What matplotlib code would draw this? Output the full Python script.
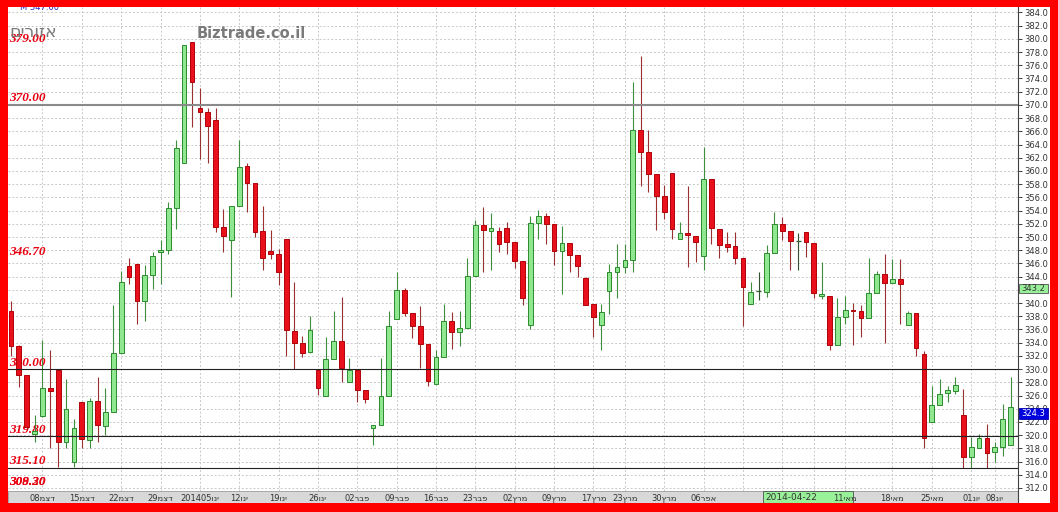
import re
import numpy as np
import matplotlib
matplotlib.use("Agg")
import matplotlib.pyplot as plt
from matplotlib.patches import Rectangle
from matplotlib.lines import Line2D

# ---------------- data ----------------
opens = [338.75, 333.5, 329.1, 320.1, 322.9, 327.1, 329.9, 319.0, 316.0, 325.0,
         319.25, 325.1, 321.4, 323.5, 332.5, 345.65, 345.85, 340.35, 344.2, 347.8,
         348.1, 354.4, 361.15, 379.6, 369.6, 368.9, 367.65, 351.5, 349.5, 354.75,
         360.75, 358.15, 350.85, 347.95, 347.5, 349.75, 335.75, 333.9, 332.6, 329.9,
         325.9, 331.6, 334.25, 328.0, 329.9, 326.9, 321.1, 321.6, 325.9, 337.6,
         342.0, 338.5, 336.6, 333.75, 327.75, 331.9, 337.25, 335.65, 336.25, 344.15,
         351.85, 350.95, 350.85, 351.4, 349.25, 346.4, 336.75, 352.1, 353.25, 352.0,
         347.9, 349.15, 347.25, 343.75, 339.85, 336.75, 341.75, 344.65, 345.5, 346.5,
         366.25, 362.85, 359.5, 356.15, 359.65, 349.75, 350.6, 350.15, 347.1, 358.75,
         351.25, 348.9, 348.6, 346.75, 339.9, 341.75, 341.65, 347.65, 352.0, 350.9,
         349.4, 350.75, 349.1, 341.0, 341.0, 333.6, 337.9, 338.95, 338.75, 337.75,
         341.5, 344.4, 343.0, 343.65, 336.65, 338.5, 332.35, 322.0, 324.5, 326.35,
         326.75, 323.0, 316.75, 318.1, 319.5, 317.4, 318.25, 318.5]
highs = [340.35, 333.6, 329.1, 323.0, 334.35, 332.85, 329.9, 328.5, 322.5, 325.0,
         325.6, 328.75, 327.1, 339.75, 344.9, 346.85, 345.85, 345.7, 347.75, 349.5,
         355.25, 364.65, 379.0, 379.6, 372.5, 369.6, 369.6, 354.25, 354.75, 364.65,
         361.25, 358.15, 354.75, 351.1, 348.25, 349.75, 343.25, 335.0, 338.1, 329.9,
         334.85, 338.85, 340.9, 331.75, 329.9, 326.9, 321.5, 331.75, 338.85, 344.65,
         342.25, 338.5, 339.5, 333.75, 332.9, 339.9, 338.65, 338.75, 346.75, 352.5,
         354.5, 353.65, 351.5, 352.25, 349.25, 346.4, 353.25, 354.1, 353.6, 352.0,
         351.6, 349.15, 347.25, 344.0, 339.85, 339.85, 345.85, 348.9, 348.9, 373.5,
         377.4, 366.25, 359.5, 357.9, 359.65, 352.25, 357.65, 350.15, 363.65, 358.75,
         351.25, 350.75, 350.75, 346.75, 343.25, 344.75, 348.75, 353.75, 353.1, 350.9,
         350.65, 350.75, 349.1, 346.25, 341.0, 340.75, 341.0, 340.0, 339.75, 346.75,
         344.85, 347.4, 346.6, 346.6, 338.85, 338.5, 332.75, 327.4, 328.5, 327.4,
         328.75, 327.0, 319.75, 320.25, 321.75, 318.9, 324.75, 328.85]
lows = [332.0, 327.35, 321.0, 319.0, 322.75, 318.0, 315.25, 318.0, 315.25, 318.0,
        318.0, 319.0, 320.0, 323.5, 332.5, 342.85, 336.9, 337.35, 342.1, 342.85,
        347.5, 351.15, 361.15, 366.65, 361.75, 361.15, 350.75, 347.75, 340.85, 354.75,
        353.75, 350.0, 345.0, 346.6, 342.75, 332.0, 329.95, 331.9, 332.4, 326.1,
        325.9, 331.6, 328.0, 328.0, 325.0, 324.9, 318.5, 321.6, 325.9, 337.6,
        338.0, 334.75, 330.1, 327.4, 327.75, 331.9, 333.0, 333.5, 336.25, 344.15,
        344.75, 345.0, 347.75, 347.4, 345.25, 339.75, 336.1, 349.75, 348.9, 345.75,
        341.4, 344.75, 343.9, 339.75, 334.9, 332.9, 338.4, 340.75, 344.5, 344.75,
        357.65, 356.75, 351.1, 352.75, 349.75, 349.75, 345.4, 346.25, 345.0, 348.9,
        346.75, 347.75, 345.9, 336.6, 339.9, 340.5, 340.9, 347.65, 349.6, 345.0,
        345.0, 347.0, 340.75, 340.6, 332.85, 333.6, 336.9, 333.65, 334.9, 337.75,
        341.5, 333.9, 343.0, 336.9, 336.65, 332.0, 318.0, 322.0, 324.5, 325.0,
        326.25, 315.0, 315.1, 318.1, 315.1, 316.0, 316.9, 318.5]
closes = [333.5, 329.15, 321.25, 320.65, 327.1, 326.75, 319.0, 324.0, 321.1, 319.4,
          325.1, 321.5, 323.5, 332.5, 343.15, 344.0, 340.35, 344.2, 347.2, 348.1,
          354.4, 363.5, 379.0, 373.5, 368.9, 366.75, 351.5, 350.2, 354.75, 360.65,
          358.15, 350.75, 346.85, 347.45, 344.65, 335.9, 333.9, 332.5, 335.9, 327.15,
          331.6, 334.25, 330.15, 329.9, 326.9, 325.5, 321.5, 325.9, 336.6, 342.0,
          338.5, 336.6, 333.75, 328.15, 331.9, 337.25, 335.6, 336.25, 344.1, 351.85,
          351.1, 351.35, 349.0, 349.25, 346.4, 340.75, 352.1, 353.25, 352.0, 347.9,
          349.15, 347.25, 345.65, 339.75, 337.85, 338.65, 344.65, 345.5, 346.5, 366.25,
          362.9, 359.5, 356.15, 353.75, 351.25, 350.6, 350.25, 349.25, 358.75, 351.35,
          348.85, 348.5, 346.75, 342.4, 341.65, 341.75, 347.6, 352.0, 350.9, 349.4,
          349.4, 349.25, 341.5, 341.3, 333.6, 337.9, 339.0, 338.85, 337.75, 341.5,
          344.4, 343.0, 343.6, 342.9, 338.5, 333.15, 319.5, 324.5, 326.25, 326.85,
          327.6, 316.75, 318.25, 319.6, 317.35, 318.25, 322.4, 324.3]

tick_idx = [4, 9, 14, 19, 24, 29, 34, 39, 44, 49, 54, 59, 64, 69, 74, 78, 83, 88,
            93, 98, 102, 106, 112, 117, 122, 125]
tick_labels = ["08דצמ", "15דצמ", "22דצמ", "29דצמ", "201405ינו", "12ינו", "19ינו",
               "26ינו", "02פבר", "09פבר", "16פבר", "23פבר", "02מרץ", "09מרץ",
               "17מרץ", "23מרץ", "30מרץ", "06אפר", "", "", "", "11מאי", "18מאי",
               "25מאי", "01יונ", "08יונ"]

zone_levels = [379.0, 370.0, 346.7, 330.0, 319.8, 315.1, 308.3, 308.2]
zone_texts = ["379.00", "370.00", "346.70", "330.00", "319.80", "315.10", "308.30", "309.20"]
line_levels = [370.0, 330.0, 319.8, 315.1]

y_ticks = list(range(312, 385, 2))
last_price = "324.3"
cursor_price = "343.2"
cursor_date = "2014-04-22"
title_text = "אזורים"
brand_text = "Biztrade.co.il"
top_text = "M 347.00"


def vis(s):
    """Hebrew runs shown right-to-left (matplotlib draws strings left to right)."""
    return re.sub(r"[\u0590-\u05FF]+", lambda m: m.group(0)[::-1], s)


# ---------------- figure ----------------
W, H = 1058, 512
fig = plt.figure(figsize=(W / 100, H / 100), dpi=100, facecolor="white")


def fx(x):
    return x / W


def fy(y):
    return 1 - y / H


ax = fig.add_axes([fx(8), fy(490.5), fx(1018) - fx(8), fy(6.5) - fy(490.5)])
ax.set_facecolor("white")
ax.set_xlim(-0.38, 127.95)
ax.set_ylim(311.62, 384.9)

# grid
ax.set_yticks(y_ticks)
ax.set_yticklabels([f"{v:.1f}" for v in y_ticks])
ax.set_xticks(tick_idx)
ax.set_xticklabels([vis(s) for s in tick_labels])
ax.grid(True, color="#c8c8c8", linestyle=(0, (2, 2)), linewidth=0.7, zorder=0)
ax.set_axisbelow(True)

ax.yaxis.tick_right()
ax.tick_params(axis="y", length=3, width=0.7, color="#404040", labelsize=6,
               labelcolor="#333333", pad=1.5, direction="out")
ax.tick_params(axis="x", length=0, labelsize=6, labelcolor="#333333", pad=2.6)
for s in ["left", "top", "bottom"]:
    ax.spines[s].set_visible(False)
ax.spines["right"].set_color("#404040")
ax.spines["right"].set_linewidth(0.8)

# zone labels (under candles)
for lv, tx in zip(zone_levels, zone_texts):
    yv = max(lv, 311.9)
    ax.annotate(tx, xy=(0, yv), xycoords=("axes fraction", "data"),
                xytext=(0.8, 0.3), textcoords="offset points",
                fontsize=9.5, color="#e80010", fontstyle="italic", fontweight="bold",
                family="Liberation Serif", ha="left", va="bottom", zorder=1)

# candles
for i, (o, h, l, c) in enumerate(zip(opens, highs, lows, closes)):
    if c > o:
        fill, edge, wick = "#8fe88f", "#2d8a2d", "#3d8f3d"
    elif c < o:
        fill, edge, wick = "#e8101a", "#b00008", "#9a3030"
    else:
        fill, edge, wick = "#2f5f2f", "#2f5f2f", "#2f4f2f"
    ax.vlines(i, l, h, color=wick, linewidth=0.8, zorder=3)
    if c == o:
        ax.hlines(o, i - 0.32, i + 0.32, color=edge, linewidth=0.9, zorder=4)
    else:
        ax.bar(i, abs(c - o), bottom=min(o, c), width=0.6, color=fill,
               edgecolor=edge, linewidth=0.7, zorder=4)

# zone lines
for lv in line_levels:
    if lv == 370.0:
        ax.axhline(lv, color="#8a8a8a", linewidth=1.5, zorder=5)
    else:
        ax.axhline(lv, color="#222222", linewidth=0.8, zorder=5)

# texts at top
fig.text(fx(9.5), fy(37), vis(title_text), fontsize=12.5, color="#7a7a7a",
         ha="left", va="baseline", family="DejaVu Sans", zorder=6)
fig.text(fx(197), fy(37.5), brand_text, fontsize=10.5, color="#7a7a7a",
         fontweight="bold", ha="left", va="baseline", family="DejaVu Sans", zorder=6)
fig.text(fx(20), fy(9.5), top_text, fontsize=6, color="#2020d0",
         ha="left", va="baseline", zorder=6)

# bottom band (behind the axes so the tick labels stay on top)
fig.add_artist(Rectangle((fx(8), fy(503)), fx(1018) - fx(8), fy(490.5) - fy(503),
                         transform=fig.transFigure, facecolor="#d8d8d8",
                         edgecolor="#9a9a9a", linewidth=0.6, zorder=-2))
# cursor date box
fig.add_artist(Rectangle((fx(763), fy(503)), fx(853) - fx(763), fy(490.5) - fy(503),
                         transform=fig.transFigure, facecolor="#98f098",
                         edgecolor="#505050", linewidth=0.6, zorder=-1))
fig.text(fx(765), fy(497), cursor_date, fontsize=6.5, color="#333333",
         ha="left", va="center", zorder=6)

# right axis spine extension
fig.add_artist(Line2D([fx(1018), fx(1018)], [fy(490.5), fy(503)],
                      transform=fig.transFigure, color="#404040", linewidth=0.8, zorder=5))

# price boxes on right axis
fig.add_artist(Rectangle((fx(1019), fy(293)), fx(1048) - fx(1019), fy(284) - fy(293),
                         transform=fig.transFigure, facecolor="#98f098",
                         edgecolor="#505050", linewidth=0.6, zorder=5))
fig.text(fx(1033.5), fy(288.7), cursor_price, fontsize=6, color="#333333",
         ha="center", va="center", zorder=6)
fig.add_artist(Rectangle((fx(1019), fy(419)), fx(1048) - fx(1019), fy(408) - fy(419),
                         transform=fig.transFigure, facecolor="#0000dd",
                         edgecolor="#0000aa", linewidth=0.6, zorder=5))
fig.text(fx(1033.5), fy(413.5), last_price, fontsize=6, color="white",
         ha="center", va="center", zorder=6)

# red frame
red = "#ff0000"
for (x0, y0, x1, y1) in [(0, 0, 7.5, 512), (1050, 0, 1058, 512),
                         (0, 0, 1058, 6.5), (0, 503, 1058, 512)]:
    fig.add_artist(Rectangle((fx(x0), fy(y1)), fx(x1) - fx(x0), fy(y0) - fy(y1),
                             transform=fig.transFigure, facecolor=red,
                             edgecolor="none", zorder=20))

fig.savefig("out.png", dpi=100, facecolor=fig.get_facecolor())
